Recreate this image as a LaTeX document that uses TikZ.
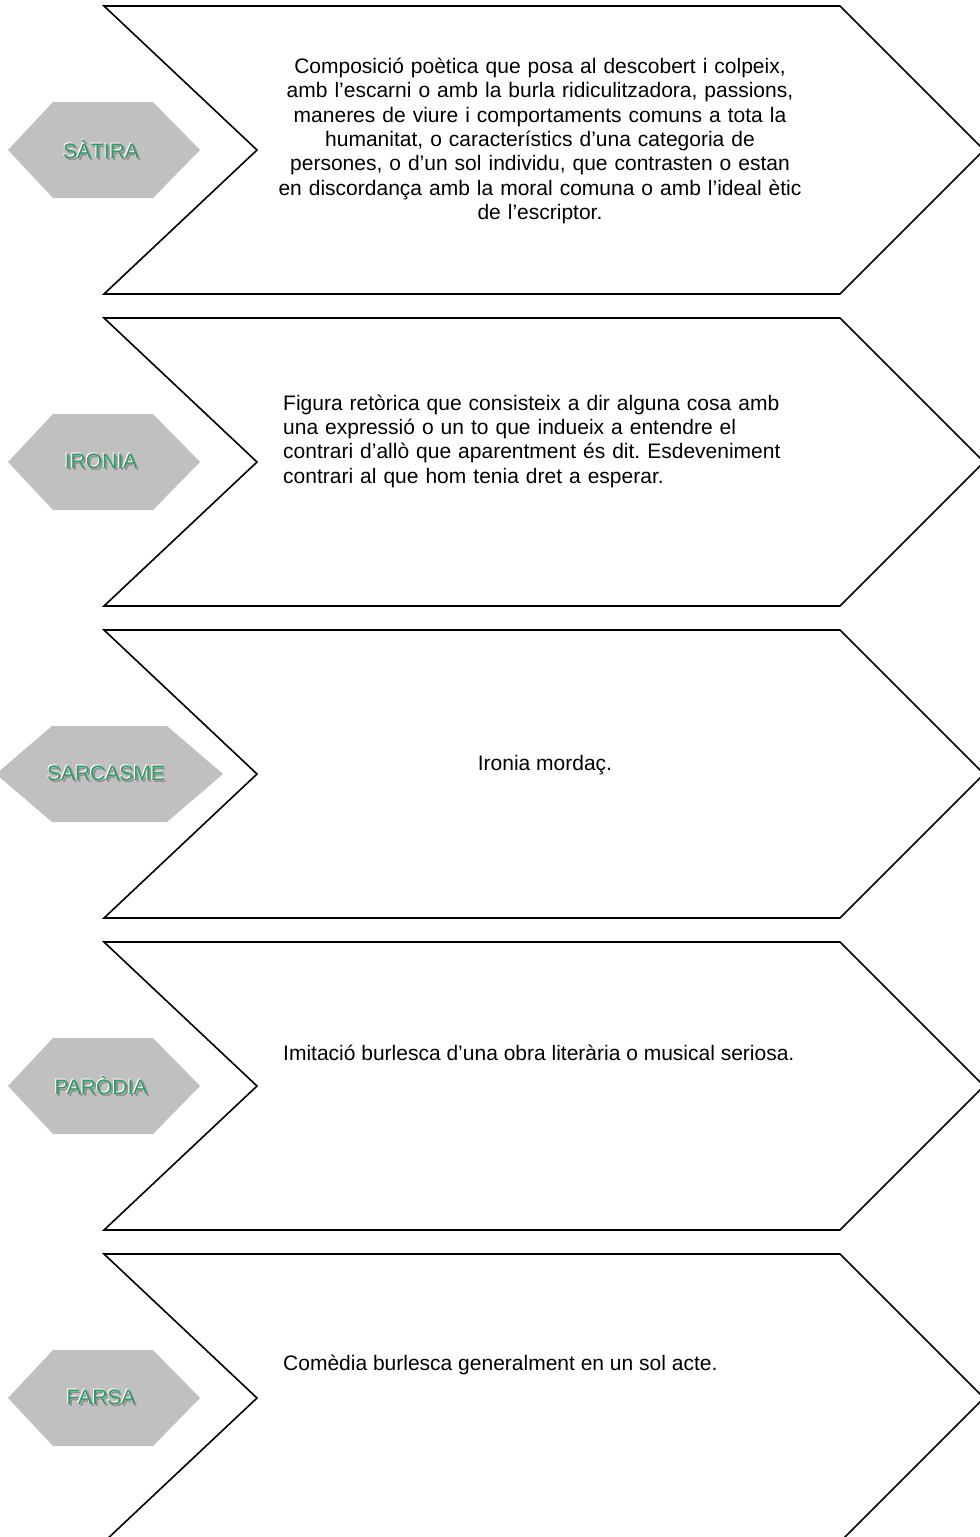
\documentclass[tikz,border=0pt]{standalone}
\usepackage{fontspec}
\setmainfont{Liberation Sans}
\frenchspacing
\definecolor{hexgray}{HTML}{C0C0C0}
\definecolor{labelgreen}{HTML}{339966}
\definecolor{shadegray}{HTML}{909090}
\newcommand{\artlabel}[1]{%
  \makebox[0pt][l]{\hspace{1.8pt}\raisebox{-1.8pt}{\textcolor{shadegray}{#1}}}%
  \makebox[0pt][l]{\hspace{-1pt}\raisebox{1pt}{\textcolor{white}{#1}}}%
  \textcolor{labelgreen}{#1}}
\tikzset{
  chevron/.style={draw=black, line width=1.6pt, line join=miter},
  hexa/.style={fill=hexgray, draw=none},
  hexlabel/.style={font=\fontsize{21}{25}\selectfont, inner sep=0pt},
  deftext/.style={font=\fontsize{21}{24.3}\selectfont, inner sep=0pt, text width=620pt}
}
\begin{document}
\begin{tikzpicture}[x=1pt, y=-1pt]
  % Page
  \clip (0,0) rectangle (980,1537);
  \fill[white] (0,0) rectangle (980,1537);

  % Chevrons
  \draw[chevron] (104,6) -- (840,6) -- (984,150) -- (840,294) -- (104,294) -- (257,150) -- cycle;
  \draw[chevron] (104,318) -- (840,318) -- (984,462) -- (840,606) -- (104,606) -- (257,462) -- cycle;
  \draw[chevron] (104,630) -- (840,630) -- (984,774) -- (840,918) -- (104,918) -- (257,774) -- cycle;
  \draw[chevron] (104,942) -- (840,942) -- (984,1086) -- (840,1230) -- (104,1230) -- (257,1086) -- cycle;
  \draw[chevron] (104,1254) -- (840,1254) -- (984,1398) -- (840,1542) -- (104,1542) -- (257,1398) -- cycle;

  % Hexagons
  \fill[hexa] (8,150) -- (53,102) -- (153,102) -- (200,150) -- (153,198) -- (53,198) -- cycle;
  \fill[hexa] (8,462) -- (53,414) -- (153,414) -- (200,462) -- (153,510) -- (53,510) -- cycle;
  \fill[hexa] (-4,774) -- (52,726) -- (167,726) -- (223,774) -- (167,822) -- (52,822) -- cycle;
  \fill[hexa] (8,1086) -- (53,1038) -- (153,1038) -- (200,1086) -- (153,1134) -- (53,1134) -- cycle;
  \fill[hexa] (8,1398) -- (53,1350) -- (153,1350) -- (200,1398) -- (153,1446) -- (53,1446) -- cycle;

  % Labels
  \node[hexlabel] (satira) at (101,150) {\artlabel{SÀTIRA}};
  \node[hexlabel] (ironia) at (101,462) {\artlabel{IRONIA}};
  \node[hexlabel] (sarcasme) at (106,774) {\artlabel{SARCASME}};
  \node[hexlabel] (parodia) at (101,1086) {\artlabel{PARÒDIA}};
  \node[hexlabel] (farsa) at (101,1398) {\artlabel{FARSA}};

  % Definitions
  \node[deftext, align=center] (satiradef) at (540,141)
    {Composició poètica que posa al descobert i colpeix,\\
     amb l’escarni o amb la burla ridiculitzadora, passions,\\
     maneres de viure i comportaments comuns a tota la\\
     humanitat, o característics d’una categoria de\\
     persones, o d’un sol individu, que contrasten o estan\\
     en discordança amb la moral comuna o amb l’ideal ètic\\
     de l’escriptor.};
  \node[deftext, align=left, anchor=west] (ironiadef) at (283,441)
    {Figura retòrica que consisteix a dir alguna cosa amb\\
     una expressió o un to que indueix a entendre el\\
     contrari d’allò que aparentment és dit. Esdeveniment\\
     contrari al que hom tenia dret a esperar.};
  \node[deftext, text width=, align=center] (sarcasmedef) at (545,765) {Ironia mordaç.};
  \node[deftext, text width=, anchor=west] (parodiadef) at (283,1053)
    {Imitació burlesca d’una obra literària o musical seriosa.};
  \node[deftext, text width=, anchor=west] (farsadef) at (283,1365)
    {Comèdia burlesca generalment en un sol acte.};
\end{tikzpicture}
\end{document}
